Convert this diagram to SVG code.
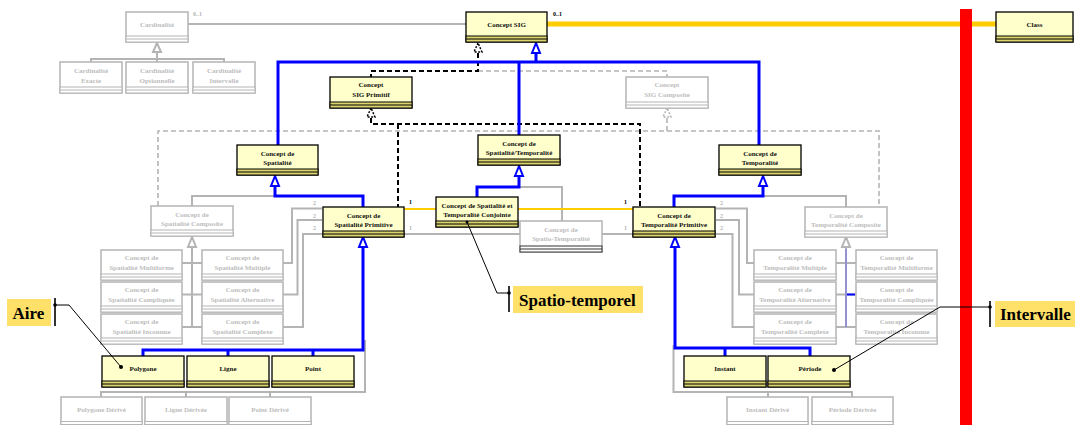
<svg xmlns="http://www.w3.org/2000/svg" width="1075" height="425" viewBox="0 0 1075 425">
  <style>
    .box .body { fill: #FFFFCC; stroke: #000; stroke-width: 1.3; }
    .box .strip { fill: #DCD46E; stroke: #000; stroke-width: 1; }
    .box .sep { stroke: #000; stroke-width: 1; }
    .box text { font-family: "Liberation Serif", "Times New Roman", serif; font-weight: bold; font-size: 7px; fill: #111; text-anchor: middle; }
    .ghost .body { fill: #FFFFFF; stroke: #B4B4B4; stroke-width: 1.5; }
    .ghost .strip { fill: #FFFFFF; stroke: #B4B4B4; stroke-width: 1; }
    .ghost .sep { stroke: #B4B4B4; stroke-width: 1; }
    .ghost text { fill: #BDBDBD; }
    .ghost.dark .strip, .ghost.dark .sep { stroke: #333; }
    .g { fill: none; stroke: #B4B4B4; stroke-width: 2; }
    .b { fill: none; stroke: #0000FF; stroke-width: 3; }
    .bt { fill: none; stroke: #6060FF; stroke-width: 0.8; }
    .y { fill: none; stroke: #FFCC00; stroke-width: 2; }
    .yk { fill: none; stroke: #FFCC00; stroke-width: 5; }
    .kd { fill: none; stroke: #000; stroke-width: 2; stroke-dasharray: 5 3; }
    .gd { fill: none; stroke: #B4B4B4; stroke-width: 1.6; stroke-dasharray: 5 3; }
    .tri-b { fill: #FFFFFF; stroke: #0000FF; stroke-width: 2; }
    .tri-g { fill: #FFFFFF; stroke: #B4B4B4; stroke-width: 2; }
    .tri-kd { fill: #FFFFFF; stroke: #000; stroke-width: 1.5; stroke-dasharray: 2 1.5; }
    .tri-gd { fill: #FFFFFF; stroke: #B4B4B4; stroke-width: 1.5; stroke-dasharray: 2 1.5; }
    .mult { font-family: "Liberation Serif", serif; font-weight: bold; font-size: 6px; fill: #000; }
    .mult.grey { fill: #B4B4B4; }
    .note rect { fill: #FFE068; }
    .note text { font-family: "Liberation Serif", "Times New Roman", serif; font-weight: bold; font-size: 17px; fill: #000; }
    .lead { fill: none; stroke: #000; stroke-width: 1; }
    .bar { stroke: #000; stroke-width: 1.6; }
  </style>

  <!-- connectors -->
  <g id="connectors">
    <!-- cardinality association and its subclasses -->
    <path class="g" d="M188,24 H466"/>
    <path class="g" d="M157,52 V62 M91,62 V59 H224 V62"/>
    <polygon class="tri-g" points="157,43 153,52 161,52"/>
    <text class="mult grey" x="193" y="16">0..1</text>

    <!-- main association to Class -->
    <path class="yk" d="M547,24 H996"/>
    <text class="mult" x="553" y="16">0..1</text>

    <!-- realisation of Concept SIG -->
    <path class="gd" d="M478,71 H667 V77"/>
    <path class="kd" d="M478,53 V71 H371 V77"/>
    <polygon class="tri-kd" points="478,43 474,52 482,52"/>

    <!-- composite realisation branch -->
    <path class="gd" d="M667,118 V131 M158,206 V131 H879 V207"/>
    <polygon class="tri-gd" points="667,108 663,117 671,117"/>

    <!-- primitive realisation branch -->
    <path class="kd" d="M371,118 V124 H640 V207 M398,124 V207"/>
    <polygon class="tri-kd" points="371,108 367,117 375,117"/>

    <!-- generalisation to Concept SIG -->
    <path class="b" d="M278,145 V62 H759 V145 M519,62 V135 M536,62 V53"/>
    <polygon class="tri-b" points="536,43 532,53 540,53"/>

    <!-- Spatialité hierarchy -->
    <path class="g" d="M275,196 H192 V206"/>
    <path class="b" d="M275,186 V196 H363 V207"/>
    <polygon class="tri-b" points="275,176 271,186 279,186"/>

    <!-- Spatialité/Temporalité hierarchy -->
    <path class="g" d="M519,187 H562 V221"/>
    <path class="b" d="M519,176 V187 H477 V197"/>
    <polygon class="tri-b" points="519,166 515,176 523,176"/>

    <!-- Temporalité hierarchy -->
    <path class="g" d="M763,196 H846 V207"/>
    <path class="b" d="M763,186 V196 H674 V207"/>
    <polygon class="tri-b" points="763,176 759,186 767,186"/>

    <!-- associations between primitives -->
    <path class="y" d="M404,209 H436 M518,209 H633"/>
    <path class="g" d="M404,234 H520 M602,234 H633"/>
    <text class="mult" x="409" y="204">1</text>
    <text class="mult" x="624" y="204">1</text>
    <text class="mult grey" x="409" y="230">1</text>
    <text class="mult grey" x="624" y="230">1</text>

    <!-- spatial composite subclasses -->
    <path class="g" d="M192,247 V327 M182,263 H202 M182,294.5 H202 M182,327 H202"/>
    <polygon class="tri-g" points="192,237 188,247 196,247"/>
    <path class="g" d="M322,208.5 H292 V263 H283 M322,220 H297.5 V294.5 H283 M322,234 H303 V327 H283"/>
    <text class="mult grey" x="313" y="205">2</text>
    <text class="mult grey" x="313" y="217.5">2</text>
    <text class="mult grey" x="313" y="230">2</text>

    <!-- temporal composite subclasses -->
    <path class="g" d="M846,247 V327 M836,263 H856 M836,294.5 H856 M836,327 H856"/>
    <path class="bt" d="M846,249 V327"/>
    <path d="M847,294.5 H855" stroke="#0000FF" stroke-width="2"/>
    <polygon class="tri-g" points="846,237 842,247 850,247"/>
    <path class="g" d="M716,208.5 H747 V263 H754 M716,220 H739 V294.5 H754 M716,234 H732.5 V327 H754"/>
    <text class="mult grey" x="720" y="205">2</text>
    <text class="mult grey" x="720" y="217.5">2</text>
    <text class="mult grey" x="720" y="230">2</text>

    <!-- spatial primitives -->
    <path class="g" d="M365,340 V392 H101 V397 M186,392 V397 M270,392 V397"/>
    <path class="b" d="M363,247 V350 H143 V356 M228,350 V356 M313,350 V356"/>
    <polygon class="tri-b" points="363,237 359,247 367,247"/>

    <!-- temporal primitives -->
    <path class="g" d="M673.5,345 V392 H852 V397 M768,392 V397"/>
    <path class="b" d="M675,247 V348 H810 V356 M725,348 V356"/>
    <polygon class="tri-b" points="675,237 671,247 679,247"/>
  </g>

  <!-- grey (inactive) classes -->
  <g id="n-card" class="box ghost"><rect class="body" x="126" y="12" width="62" height="30"/><rect class="strip" x="126" y="36" width="62" height="6"/><line class="sep" x1="126" y1="39" x2="188" y2="39"/><text x="157" y="26.5">Cardinalité</text></g>
  <g id="n-card-exacte" class="box ghost"><rect class="body" x="60" y="62" width="62" height="31"/><rect class="strip" x="60" y="87" width="62" height="6"/><line class="sep" x1="60" y1="90" x2="122" y2="90"/><text x="91" y="73">Cardinalité</text><text x="91" y="82.5">Exacte</text></g>
  <g id="n-card-opt" class="box ghost"><rect class="body" x="126" y="62" width="62" height="31"/><rect class="strip" x="126" y="87" width="62" height="6"/><line class="sep" x1="126" y1="90" x2="188" y2="90"/><text x="157" y="73">Cardinalité</text><text x="157" y="82.5">Optionnelle</text></g>
  <g id="n-card-int" class="box ghost"><rect class="body" x="193" y="62" width="62" height="31"/><rect class="strip" x="193" y="87" width="62" height="6"/><line class="sep" x1="193" y1="90" x2="255" y2="90"/><text x="224" y="73">Cardinalité</text><text x="224" y="82.5">Intervalle</text></g>
  <g id="n-sig-composite" class="box ghost"><rect class="body" x="626" y="77" width="82" height="31"/><rect class="strip" x="626" y="102" width="82" height="6"/><line class="sep" x1="626" y1="105" x2="708" y2="105"/><text x="667" y="87">Concept</text><text x="667" y="96.5">SIG Composite</text></g>
  <g id="n-spat-composite" class="box ghost"><rect class="body" x="151" y="206" width="82" height="30"/><rect class="strip" x="151" y="230" width="82" height="6"/><line class="sep" x1="151" y1="233" x2="233" y2="233"/><text x="192" y="216.5">Concept de</text><text x="192" y="225.8">Spatialité Composite</text></g>
  <g id="n-temp-composite" class="box ghost"><rect class="body" x="805" y="207" width="82" height="30"/><rect class="strip" x="805" y="231" width="82" height="6"/><line class="sep" x1="805" y1="234" x2="887" y2="234"/><text x="846" y="217.5">Concept de</text><text x="846" y="226.8">Temporalité Composite</text></g>
  <g id="n-spatio-temporalite" class="box ghost dark"><rect class="body" x="520" y="221" width="82" height="31"/><rect class="strip" x="520" y="246" width="82" height="6"/><line class="sep" x1="520" y1="249" x2="602" y2="249"/><text x="561" y="231.5">Concept de</text><text x="561" y="240.8">Spatio-Temporalité</text></g>

  <g id="n-spat-multiforme" class="box ghost"><rect class="body" x="101" y="250" width="81" height="30"/><rect class="strip" x="101" y="274" width="81" height="6"/><line class="sep" x1="101" y1="277" x2="182" y2="277"/><text x="141.5" y="260.2">Concept de</text><text x="141.5" y="269.5">Spatialité Multiforme</text></g>
  <g id="n-spat-compliquee" class="box ghost"><rect class="body" x="101" y="282" width="81" height="30"/><rect class="strip" x="101" y="306" width="81" height="6"/><line class="sep" x1="101" y1="309" x2="182" y2="309"/><text x="141.5" y="292.2">Concept de</text><text x="141.5" y="301.5">Spatialité Compliquée</text></g>
  <g id="n-spat-inconnue" class="box ghost"><rect class="body" x="101" y="314" width="81" height="30"/><rect class="strip" x="101" y="338" width="81" height="6"/><line class="sep" x1="101" y1="341" x2="182" y2="341"/><text x="141.5" y="324.2">Concept de</text><text x="141.5" y="333.5">Spatialité Inconnue</text></g>
  <g id="n-spat-multiple" class="box ghost"><rect class="body" x="202" y="250" width="81" height="30"/><rect class="strip" x="202" y="274" width="81" height="6"/><line class="sep" x1="202" y1="277" x2="283" y2="277"/><text x="242.5" y="260.2">Concept de</text><text x="242.5" y="269.5">Spatialité Multiple</text></g>
  <g id="n-spat-alternative" class="box ghost"><rect class="body" x="202" y="282" width="81" height="30"/><rect class="strip" x="202" y="306" width="81" height="6"/><line class="sep" x1="202" y1="309" x2="283" y2="309"/><text x="242.5" y="292.2">Concept de</text><text x="242.5" y="301.5">Spatialité Alternative</text></g>
  <g id="n-spat-complexe" class="box ghost"><rect class="body" x="202" y="314" width="81" height="30"/><rect class="strip" x="202" y="338" width="81" height="6"/><line class="sep" x1="202" y1="341" x2="283" y2="341"/><text x="242.5" y="324.2">Concept de</text><text x="242.5" y="333.5">Spatialité Complexe</text></g>

  <g id="n-temp-multiple" class="box ghost"><rect class="body" x="754" y="250" width="82" height="30"/><rect class="strip" x="754" y="274" width="82" height="6"/><line class="sep" x1="754" y1="277" x2="836" y2="277"/><text x="795" y="260.2">Concept de</text><text x="795" y="269.5">Temporalité Multiple</text></g>
  <g id="n-temp-alternative" class="box ghost"><rect class="body" x="754" y="282" width="82" height="30"/><rect class="strip" x="754" y="306" width="82" height="6"/><line class="sep" x1="754" y1="309" x2="836" y2="309"/><text x="795" y="292.2">Concept de</text><text x="795" y="301.5">Temporalité Alternative</text></g>
  <g id="n-temp-complexe" class="box ghost"><rect class="body" x="754" y="314" width="82" height="30"/><rect class="strip" x="754" y="338" width="82" height="6"/><line class="sep" x1="754" y1="341" x2="836" y2="341"/><text x="795" y="324.2">Concept de</text><text x="795" y="333.5">Temporalité Complexe</text></g>
  <g id="n-temp-multiforme" class="box ghost"><rect class="body" x="856" y="250" width="81" height="30"/><rect class="strip" x="856" y="274" width="81" height="6"/><line class="sep" x1="856" y1="277" x2="937" y2="277"/><text x="896.5" y="260.2">Concept de</text><text x="896.5" y="269.5">Temporalité Multiforme</text></g>
  <g id="n-temp-compliquee" class="box ghost"><rect class="body" x="856" y="282" width="81" height="30"/><rect class="strip" x="856" y="306" width="81" height="6"/><line class="sep" x1="856" y1="309" x2="937" y2="309"/><text x="896.5" y="292.2">Concept de</text><text x="896.5" y="301.5">Temporalité Compliquée</text></g>
  <g id="n-temp-inconnue" class="box ghost"><rect class="body" x="856" y="314" width="81" height="30"/><rect class="strip" x="856" y="338" width="81" height="6"/><line class="sep" x1="856" y1="341" x2="937" y2="341"/><text x="896.5" y="324.2">Concept de</text><text x="896.5" y="333.5">Temporalité Inconnue</text></g>

  <g id="n-polygone-derive" class="box ghost"><rect class="body" x="61" y="397" width="81" height="30"/><rect class="strip" x="61" y="421.5" width="81" height="6"/><line class="sep" x1="61" y1="424.5" x2="142" y2="424.5"/><text x="101.5" y="411.5">Polygone Dérivé</text></g>
  <g id="n-ligne-derivee" class="box ghost"><rect class="body" x="145" y="397" width="82" height="30"/><rect class="strip" x="145" y="421.5" width="82" height="6"/><line class="sep" x1="145" y1="424.5" x2="227" y2="424.5"/><text x="186" y="411.5">Ligne Dérivée</text></g>
  <g id="n-point-derive" class="box ghost"><rect class="body" x="229" y="397" width="82" height="30"/><rect class="strip" x="229" y="421.5" width="82" height="6"/><line class="sep" x1="229" y1="424.5" x2="311" y2="424.5"/><text x="270" y="411.5">Point Dérivé</text></g>
  <g id="n-instant-derive" class="box ghost"><rect class="body" x="727" y="397" width="81" height="30"/><rect class="strip" x="727" y="421.5" width="81" height="6"/><line class="sep" x1="727" y1="424.5" x2="808" y2="424.5"/><text x="767.5" y="411.5">Instant Dérivé</text></g>
  <g id="n-periode-derivee" class="box ghost"><rect class="body" x="812" y="397" width="81" height="30"/><rect class="strip" x="812" y="421.5" width="81" height="6"/><line class="sep" x1="812" y1="424.5" x2="893" y2="424.5"/><text x="852.5" y="411.5">Période Dérivée</text></g>

  <!-- active classes -->
  <g id="n-concept-sig" class="box"><rect class="body" x="466" y="12" width="81" height="30"/><rect class="strip" x="466" y="36" width="81" height="6"/><line class="sep" x1="466" y1="39" x2="547" y2="39"/><text x="506.5" y="26.5">Concept SIG</text></g>
  <g id="n-class" class="box"><rect class="body" x="996" y="12" width="77" height="30"/><rect class="strip" x="996" y="36" width="77" height="6"/><line class="sep" x1="996" y1="39" x2="1073" y2="39"/><text x="1034.5" y="26.5">Class</text></g>
  <g id="n-sig-primitif" class="box"><rect class="body" x="330" y="77" width="82" height="31"/><rect class="strip" x="330" y="102" width="82" height="6"/><line class="sep" x1="330" y1="105" x2="412" y2="105"/><text x="371" y="87">Concept</text><text x="371" y="96.5">SIG Primitif</text></g>
  <g id="n-spatialite" class="box"><rect class="body" x="237" y="145" width="81" height="30"/><rect class="strip" x="237" y="169" width="81" height="6"/><line class="sep" x1="237" y1="172" x2="318" y2="172"/><text x="277.5" y="155.5">Concept de</text><text x="277.5" y="165">Spatialité</text></g>
  <g id="n-spatialite-temporalite" class="box"><rect class="body" x="478" y="135" width="82" height="30"/><rect class="strip" x="478" y="159" width="82" height="6"/><line class="sep" x1="478" y1="162" x2="560" y2="162"/><text x="519" y="145.5">Concept de</text><text x="519" y="155">Spatialité/Temporalité</text></g>
  <g id="n-temporalite" class="box"><rect class="body" x="719" y="145" width="82" height="30"/><rect class="strip" x="719" y="169" width="82" height="6"/><line class="sep" x1="719" y1="172" x2="801" y2="172"/><text x="760" y="155.5">Concept de</text><text x="760" y="165">Temporalité</text></g>
  <g id="n-spat-primitive" class="box"><rect class="body" x="323" y="207" width="81" height="30"/><rect class="strip" x="323" y="231" width="81" height="6"/><line class="sep" x1="323" y1="234" x2="404" y2="234"/><text x="363.5" y="217.5">Concept de</text><text x="363.5" y="227">Spatialité Primitive</text></g>
  <g id="n-conjointe" class="box"><rect class="body" x="436" y="197" width="82" height="30"/><rect class="strip" x="436" y="221" width="82" height="6"/><line class="sep" x1="436" y1="224" x2="518" y2="224"/><text x="477" y="207.5">Concept de Spatialité et</text><text x="477" y="217">Temporalité Conjointe</text></g>
  <g id="n-temp-primitive" class="box"><rect class="body" x="633" y="207" width="82" height="30"/><rect class="strip" x="633" y="231" width="82" height="6"/><line class="sep" x1="633" y1="234" x2="715" y2="234"/><text x="674" y="217.5">Concept de</text><text x="674" y="227">Temporalité Primitive</text></g>
  <g id="n-polygone" class="box"><rect class="body" x="102" y="356" width="82" height="31"/><rect class="strip" x="102" y="381" width="82" height="6"/><line class="sep" x1="102" y1="384" x2="184" y2="384"/><text x="143" y="371">Polygone</text></g>
  <g id="n-ligne" class="box"><rect class="body" x="187" y="356" width="82" height="31"/><rect class="strip" x="187" y="381" width="82" height="6"/><line class="sep" x1="187" y1="384" x2="269" y2="384"/><text x="228" y="371">Ligne</text></g>
  <g id="n-point" class="box"><rect class="body" x="272" y="356" width="82" height="31"/><rect class="strip" x="272" y="381" width="82" height="6"/><line class="sep" x1="272" y1="384" x2="354" y2="384"/><text x="313" y="371">Point</text></g>
  <g id="n-instant" class="box"><rect class="body" x="684" y="356" width="82" height="31"/><rect class="strip" x="684" y="381" width="82" height="6"/><line class="sep" x1="684" y1="384" x2="766" y2="384"/><text x="725" y="371">Instant</text></g>
  <g id="n-periode" class="box"><rect class="body" x="768" y="356" width="82" height="31"/><rect class="strip" x="768" y="381" width="82" height="6"/><line class="sep" x1="768" y1="384" x2="850" y2="384"/><text x="810" y="371">Période</text></g>

  <!-- separator bar -->
  <rect id="separator" x="960" y="9" width="12" height="416" fill="#FF0000"/>

  <!-- annotations -->
  <g id="note-aire" class="note">
    <rect x="7" y="299" width="44" height="27"/>
    <text x="12.5" y="318.5">Aire</text>
    <line class="bar" x1="55" y1="298" x2="55" y2="326"/>
    <path class="lead" d="M55,305 H69 L121,367"/>
    <circle cx="55" cy="305" r="1.8"/>
    <circle cx="121" cy="367" r="2"/>
  </g>
  <g id="note-spatio-temporel" class="note">
    <rect x="513" y="286" width="130" height="27"/>
    <text x="519" y="305.5">Spatio-temporel</text>
    <line class="bar" x1="509" y1="286" x2="509" y2="312"/>
    <path class="lead" d="M467,222 L497,293 H509"/>
    <circle cx="509" cy="293" r="1.8"/>
    <circle cx="467" cy="222" r="1.5"/>
  </g>
  <g id="note-intervalle" class="note">
    <rect x="995" y="301" width="80" height="26"/>
    <text x="1000" y="320">Intervalle</text>
    <line class="bar" x1="990" y1="301" x2="990" y2="327"/>
    <path class="lead" d="M990,307 H940 L834,370"/>
    <circle cx="990" cy="307" r="1.8"/>
    <circle cx="834" cy="370" r="2"/>
  </g>
</svg>
